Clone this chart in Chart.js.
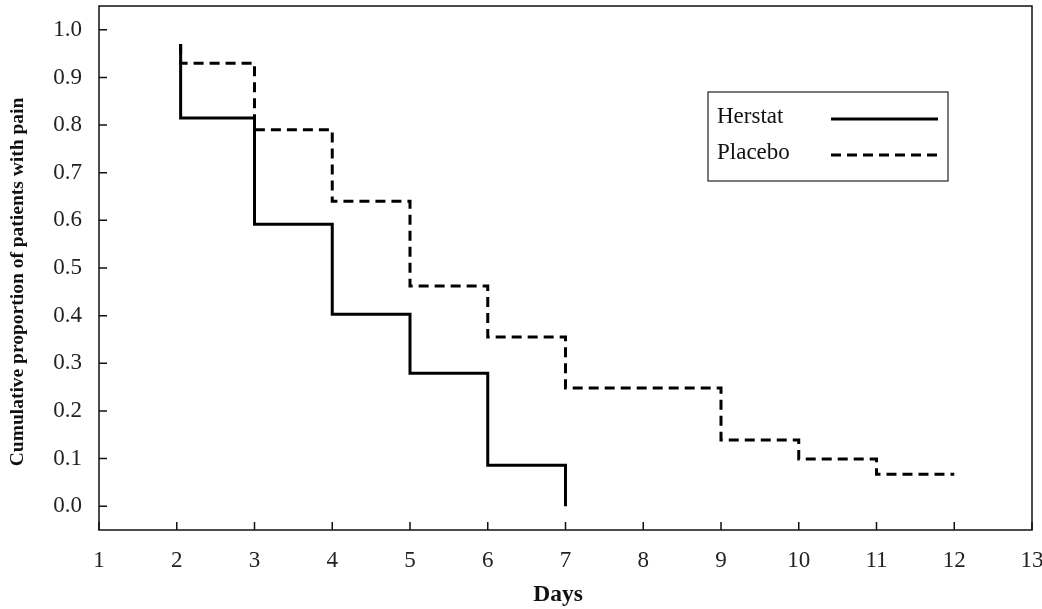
<!DOCTYPE html>
<html>
<head>
<meta charset="utf-8">
<script src="https://cdn.jsdelivr.net/npm/chart.js@4.4.1/dist/chart.umd.min.js"></script>
<style>
  html, body { margin: 0; padding: 0; background: #fff; }
  #wrap { width: 1042px; height: 609px; position: relative; }
</style>
</head>
<body>
<div id="wrap"><canvas id="km"></canvas></div>
<script>
// Kaplan-Meier style steps
const herstatDays = [2.05, 2.05, 3, 4, 5, 6, 7];
const herstatProp = [0.97, 0.815, 0.592, 0.403, 0.279, 0.086, 0.0];

const placeboDays = [2.05, 2.05, 3, 4, 5, 6, 7, 9, 10, 11, 12];
const placeboProp = [0.97, 0.93, 0.79, 0.64, 0.462, 0.355, 0.248, 0.139, 0.099, 0.067, 0.067];

const xTicks = [1, 2, 3, 4, 5, 6, 7, 8, 9, 10, 11, 12, 13];
const yTicks = [0, 0.1, 0.2, 0.3, 0.4, 0.5, 0.6, 0.7, 0.8, 0.9, 1.0];

const xTitle = 'Days';
const yTitle = 'Cumulative proportion of patients with pain';

const SERIF = '"Liberation Serif", "Times New Roman", serif';

function toPoints(xs, ys) {
    return xs.map((x, i) => ({ x: x, y: ys[i] }));
}

// frame, inward ticks, axis titles and the boxed legend
const framePlugin = {
    id: 'frame',
    afterDraw(chart) {
        const ctx = chart.ctx;
        const a = chart.chartArea;
        const xs = chart.scales.x;
        const ys = chart.scales.y;
        ctx.save();
        ctx.strokeStyle = '#111';
        ctx.lineWidth = 1.5;
        ctx.strokeRect(a.left, a.top, a.right - a.left, a.bottom - a.top);

        ctx.beginPath();
        yTicks.forEach(v => {
            const py = ys.getPixelForValue(v);
            ctx.moveTo(a.left, py);
            ctx.lineTo(a.left + 8, py);
        });
        xTicks.forEach(v => {
            const px = xs.getPixelForValue(v);
            ctx.moveTo(px, a.bottom);
            ctx.lineTo(px, a.bottom - 8);
        });
        ctx.stroke();

        // axis titles (placed off-centre like the original)
        ctx.fillStyle = '#111';
        ctx.textAlign = 'center';
        ctx.textBaseline = 'middle';
        ctx.font = 'bold 23.5px ' + SERIF;
        ctx.fillText(xTitle, 558, 595);

        ctx.save();
        ctx.translate(18, 282);
        ctx.rotate(-Math.PI / 2);
        ctx.font = 'bold 19.5px ' + SERIF;
        ctx.fillText(yTitle, 0, 0);
        ctx.restore();

        // legend
        const lx = 708, ly = 92, lw = 240, lh = 89;
        ctx.fillStyle = '#fff';
        ctx.fillRect(lx, ly, lw, lh);
        ctx.lineWidth = 1.2;
        ctx.strokeStyle = '#222';
        ctx.strokeRect(lx, ly, lw, lh);
        ctx.font = '23px ' + SERIF;
        ctx.fillStyle = '#111';
        ctx.textAlign = 'left';
        chart.data.datasets.forEach((ds, i) => {
            const cy = 117 + i * 36;
            ctx.fillText(ds.label, 717, cy);
            ctx.beginPath();
            ctx.strokeStyle = '#000';
            ctx.lineWidth = ds.borderWidth;
            ctx.setLineDash(ds.borderDash || []);
            ctx.moveTo(831, cy + 2);
            ctx.lineTo(938, cy + 2);
            ctx.stroke();
            ctx.setLineDash([]);
        });
        ctx.restore();
    }
};

new Chart(document.getElementById('km'), {
    type: 'line',
    data: {
        datasets: [
            {
                label: 'Herstat',
                data: toPoints(herstatDays, herstatProp),
                borderColor: '#000',
                borderWidth: 3,
                stepped: 'before',
                pointRadius: 0,
                fill: false
            },
            {
                label: 'Placebo',
                data: toPoints(placeboDays, placeboProp),
                borderColor: '#000',
                borderWidth: 3,
                borderDash: [10, 6],
                stepped: 'before',
                pointRadius: 0,
                fill: false
            }
        ]
    },
    options: {
        responsive: true,
        maintainAspectRatio: false,
        animation: false,
        layout: { autoPadding: false, padding: { top: 6, right: 10, left: 0, bottom: 0 } },
        plugins: {
            legend: { display: false },
            tooltip: { enabled: false }
        },
        scales: {
            x: {
                type: 'linear',
                min: 1,
                max: 13,
                afterFit(s) {
                    s.height = 79;
                    s.paddingLeft = 0;
                    s.paddingRight = 0;
                },
                afterBuildTicks(s) { s.ticks = xTicks.map(v => ({ value: v })); },
                grid: { display: false, drawTicks: false },
                border: { display: false },
                ticks: {
                    color: '#222',
                    padding: 17,
                    font: { family: SERIF, size: 23 },
                    maxRotation: 0,
                    callback: v => String(v)
                },
                title: { display: false }
            },
            y: {
                type: 'linear',
                min: -0.05,
                max: 1.05,
                afterFit(s) {
                    s.width = 99;
                    s.paddingTop = 0;
                    s.paddingBottom = 0;
                },
                afterBuildTicks(s) { s.ticks = yTicks.map(v => ({ value: v })); },
                grid: { display: false, drawTicks: false },
                border: { display: false },
                ticks: {
                    color: '#222',
                    padding: 17,
                    font: { family: SERIF, size: 23 },
                    callback: v => v.toFixed(1)
                },
                title: { display: false }
            }
        }
    },
    plugins: [framePlugin]
});
</script>
</body>
</html>
